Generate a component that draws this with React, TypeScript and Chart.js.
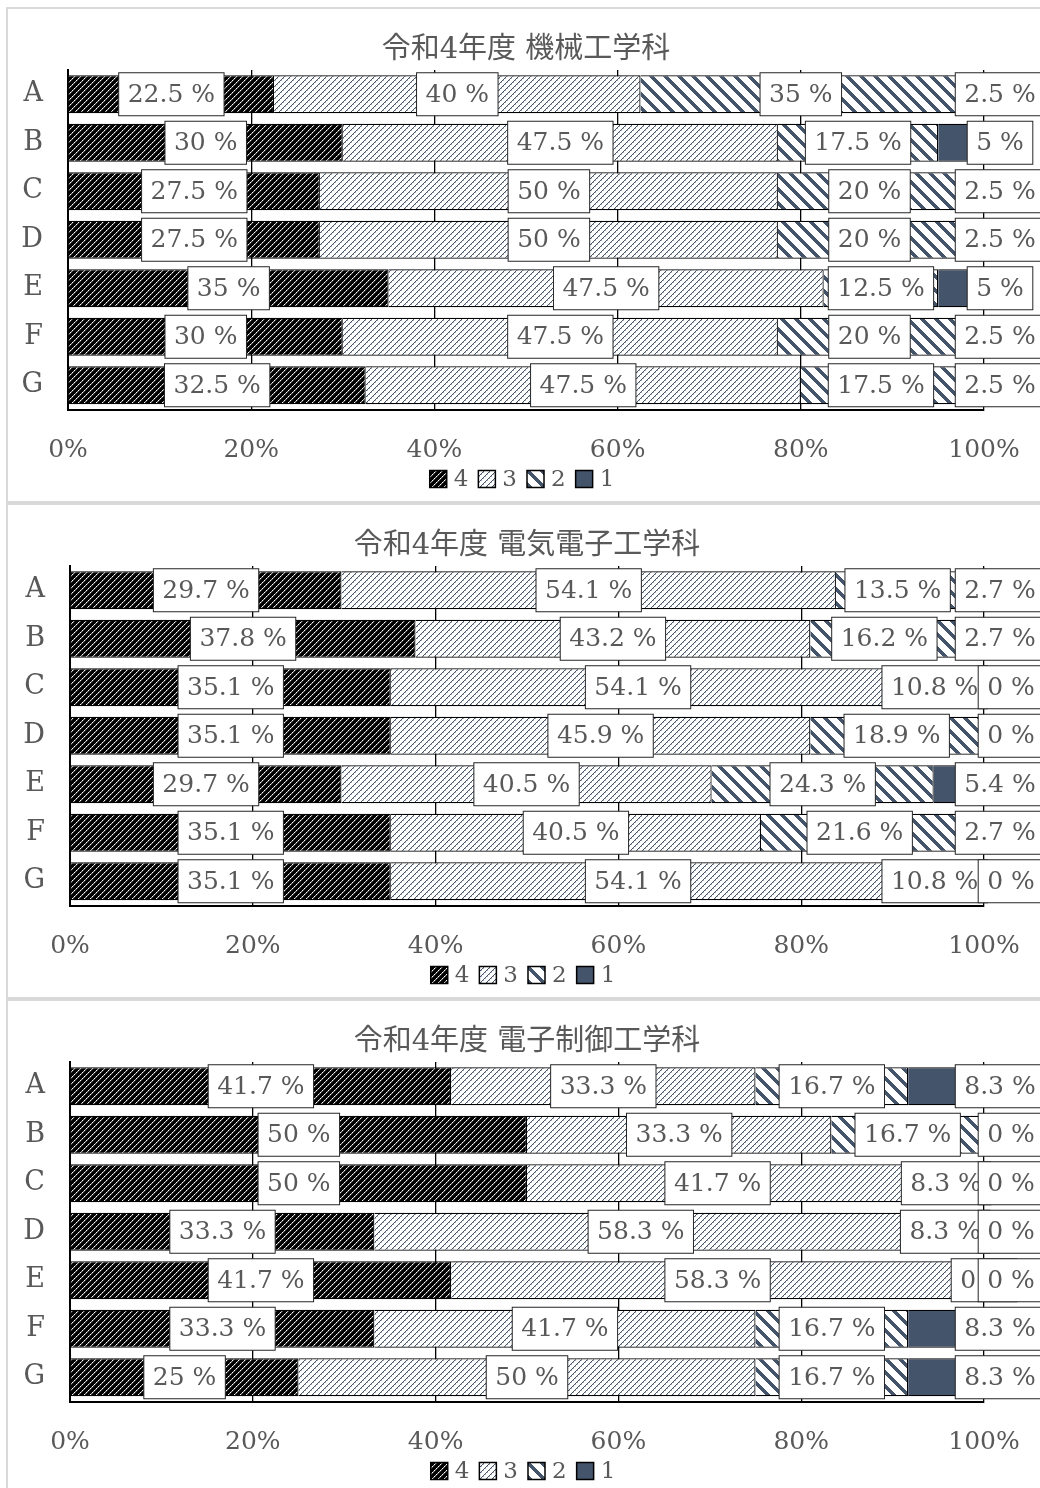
import React, { useEffect, useRef } from 'react';
import { Chart, registerables } from 'chart.js';

Chart.register(...registerables);

// ---------- data ----------
const categories = ['A', 'B', 'C', 'D', 'E', 'F', 'G'];
const seriesLabels = ['4', '3', '2', '1'];

const titleMech = '令和4年度 機械工学科';
const mech4 = [22.5, 30, 27.5, 27.5, 35, 30, 32.5];
const mech3 = [40, 47.5, 50, 50, 47.5, 47.5, 47.5];
const mech2 = [35, 17.5, 20, 20, 12.5, 20, 17.5];
const mech1 = [2.5, 5, 2.5, 2.5, 5, 2.5, 2.5];

const titleElec = '令和4年度 電気電子工学科';
const elec4 = [29.7, 37.8, 35.1, 35.1, 29.7, 35.1, 35.1];
const elec3 = [54.1, 43.2, 54.1, 45.9, 40.5, 40.5, 54.1];
const elec2 = [13.5, 16.2, 10.8, 18.9, 24.3, 21.6, 10.8];
const elec1 = [2.7, 2.7, 0, 0, 5.4, 2.7, 0];

const titleCtrl = '令和4年度 電子制御工学科';
const ctrl4 = [41.7, 50, 50, 33.3, 41.7, 33.3, 25];
const ctrl3 = [33.3, 33.3, 41.7, 58.3, 58.3, 41.7, 50];
const ctrl2 = [16.7, 16.7, 8.3, 8.3, 0, 16.7, 16.7];
const ctrl1 = [8.3, 0, 0, 0, 0, 8.3, 8.3];

// ---------- styling ----------
const FONT = "'DejaVu Serif', 'Noto Sans CJK JP', serif";
const GRAY = '#595959';
const NAVY = '#44546A';

function makeTile(n: number, draw: (g: CanvasRenderingContext2D) => void) {
  const c = document.createElement('canvas');
  c.width = n;
  c.height = n;
  const g = c.getContext('2d') as CanvasRenderingContext2D;
  draw(g);
  return c;
}

function makePatterns(ctx: CanvasRenderingContext2D) {
  const t4 = makeTile(6, (g) => {
    g.fillStyle = '#000';
    g.fillRect(0, 0, 6, 6);
    for (let i = 0; i < 6; i++) {
      g.fillStyle = i % 2 === 0 ? '#ffffff' : '#a8a8a8';
      g.fillRect(i, 5 - i, 1, 1);
      g.fillStyle = '#3a3a3a';
      g.fillRect((i + 1) % 6, 5 - i, 1, 1);
    }
  });
  const t3 = makeTile(6, (g) => {
    g.fillStyle = '#fff';
    g.fillRect(0, 0, 6, 6);
    for (let i = 0; i < 6; i++) {
      g.fillStyle = NAVY;
      g.fillRect(i, 5 - i, 1, 1);
      if (i % 2 === 0) {
        g.fillStyle = '#aab2be';
        g.fillRect((i + 1) % 6, 5 - i, 1, 1);
      }
    }
  });
  const t2 = makeTile(14, (g) => {
    g.fillStyle = '#fff';
    g.fillRect(0, 0, 14, 14);
    g.fillStyle = NAVY;
    for (let y = 0; y < 14; y++) {
      for (let x = 0; x < 14; x++) {
        if ((((x - y) % 14) + 14) % 14 < 5) g.fillRect(x, y, 1, 1);
      }
    }
  });
  return [
    ctx.createPattern(t4, 'repeat'),
    ctx.createPattern(t3, 'repeat'),
    ctx.createPattern(t2, 'repeat'),
    NAVY,
  ];
}

const panelPlugin = {
  id: 'panelFrame',
  beforeDraw(chart: any) {
    const { ctx, width, height } = chart;
    ctx.save();
    ctx.fillStyle = '#fff';
    ctx.fillRect(0, 0, width, height);
    ctx.strokeStyle = '#d9d9d9';
    ctx.lineWidth = 2;
    ctx.strokeRect(1, 1, width - 2, height - 2);
    ctx.restore();
  },
};

const labelPlugin = {
  id: 'boxLabels',
  afterDatasetsDraw(chart: any) {
    const ctx = chart.ctx;
    const xs = chart.scales.x;
    ctx.save();
    ctx.font = `25px ${FONT}`;
    ctx.textAlign = 'center';
    ctx.textBaseline = 'middle';
    const n = chart.data.datasets.length;
    chart.data.datasets.forEach((ds: any, di: number) => {
      const meta = chart.getDatasetMeta(di);
      meta.data.forEach((bar: any, i: number) => {
        const v = ds.data[i];
        const text = `${v} %`;
        const tw = ctx.measureText(text).width;
        const w = tw + 18;
        const h = 43;
        const p = bar.getProps(['x', 'y', 'base'], true);
        let cx = (p.x + p.base) / 2;
        // last series: label placed just beyond the bar end, like the original
        if (di === n - 1) cx = xs.getPixelForValue(100) + (v === 0 ? 27 : 16);
        const cy = p.y;
        ctx.fillStyle = '#fff';
        ctx.fillRect(cx - w / 2, cy - h / 2, w, h);
        ctx.strokeStyle = '#262626';
        ctx.lineWidth = 1;
        ctx.strokeRect(cx - w / 2, cy - h / 2, w, h);
        ctx.fillStyle = GRAY;
        ctx.fillText(text, cx, cy + 1);
      });
    });
    ctx.restore();
  },
};

const legendPlugin = {
  id: 'boxLegend',
  afterDraw(chart: any) {
    const ctx = chart.ctx;
    const { left, right } = chart.chartArea;
    ctx.save();
    ctx.font = `23px ${FONT}`;
    ctx.textBaseline = 'middle';
    ctx.textAlign = 'left';
    const box = 17;
    const gapText = 7;
    const gapItem = 10;
    const items = chart.data.datasets.map((ds: any) => ({
      label: ds.label,
      fill: ds.backgroundColor,
      tw: ctx.measureText(ds.label).width,
    }));
    const total =
      items.reduce((s: number, it: any) => s + box + gapText + it.tw, 0) + gapItem * (items.length - 1);
    let x = (left + right) / 2 - total / 2 - 4;
    const y = 472;
    items.forEach((it: any) => {
      ctx.fillStyle = it.fill;
      ctx.fillRect(x, y - box / 2, box, box);
      ctx.strokeStyle = '#000';
      ctx.lineWidth = 1.5;
      ctx.strokeRect(x, y - box / 2, box, box);
      ctx.fillStyle = GRAY;
      ctx.fillText(it.label, x + box + gapText, y + 1);
      x += box + gapText + it.tw + gapItem;
    });
    ctx.restore();
  },
};

type PanelProps = {
  top: number;
  title: string;
  d4: number[];
  d3: number[];
  d2: number[];
  d1: number[];
  axisLeft: number;
};

function Panel({ top, title, d4, d3, d2, d1, axisLeft }: PanelProps) {
  const ref = useRef<HTMLCanvasElement | null>(null);
  useEffect(() => {
    const canvas = ref.current as HTMLCanvasElement;
    const ctx = canvas.getContext('2d') as CanvasRenderingContext2D;
    const fills = makePatterns(ctx);
    const values = [d4, d3, d2, d1];
    const chart = new Chart(canvas, {
      type: 'bar',
      data: {
        labels: categories,
        datasets: seriesLabels.map((lab, i) => ({
          label: lab,
          data: values[i],
          backgroundColor: fills[i] as any,
          borderColor: '#000',
          borderWidth: 1.2,
          barPercentage: 0.785,
          categoryPercentage: 1,
        })),
      },
      options: {
        indexAxis: 'y',
        responsive: false,
        maintainAspectRatio: false,
        animation: false,
        events: [],
        layout: { padding: { left: 0, right: 62, top: 0, bottom: 0 } },
        scales: {
          x: {
            stacked: true,
            min: 0,
            max: 100,
            ticks: {
              stepSize: 20,
              callback: (v: any) => `${v}%`,
              color: GRAY,
              font: { family: FONT, size: 25 },
              padding: 26,
              maxRotation: 0,
              autoSkip: false,
            },
            grid: { color: '#000', lineWidth: 1.3, drawTicks: false },
            border: { display: true, color: '#000', width: 2 },
            afterFit: (s: any) => {
              s.height = 93.5;
            },
          },
          y: {
            stacked: true,
            ticks: { color: GRAY, font: { family: FONT, size: 27 }, padding: 25 },
            grid: { display: false, drawTicks: false },
            border: { display: true, color: '#000', width: 2 },
            afterFit: (s: any) => {
              s.width = axisLeft;
            },
          },
        },
        plugins: {
          legend: { display: false },
          tooltip: { enabled: false },
          title: {
            display: true,
            fullSize: false,
            text: title,
            color: GRAY,
            font: { family: FONT, size: 29, weight: 'normal' as any, lineHeight: 1.2 },
            padding: { top: 25.6, bottom: 2.6 },
          },
        },
      },
      plugins: [panelPlugin, labelPlugin, legendPlugin],
    });
    return () => chart.destroy();
  }, []);
  return (
    <canvas
      ref={ref}
      width={1040}
      height={496}
      style={{ position: 'absolute', left: 6, top, display: 'block' }}
    />
  );
}

export default function App() {
  return (
    <div
      style={{
        position: 'absolute',
        left: 0,
        top: 0,
        width: 1040,
        height: 1488,
        overflow: 'hidden',
        background: '#fff',
      }}
    >
      <Panel top={7} title={titleMech} d4={mech4} d3={mech3} d2={mech2} d1={mech1} axisLeft={62} />
      <Panel top={503} title={titleElec} d4={elec4} d3={elec3} d2={elec2} d1={elec1} axisLeft={64} />
      <Panel top={999} title={titleCtrl} d4={ctrl4} d3={ctrl3} d2={ctrl2} d1={ctrl1} axisLeft={64} />
    </div>
  );
}
